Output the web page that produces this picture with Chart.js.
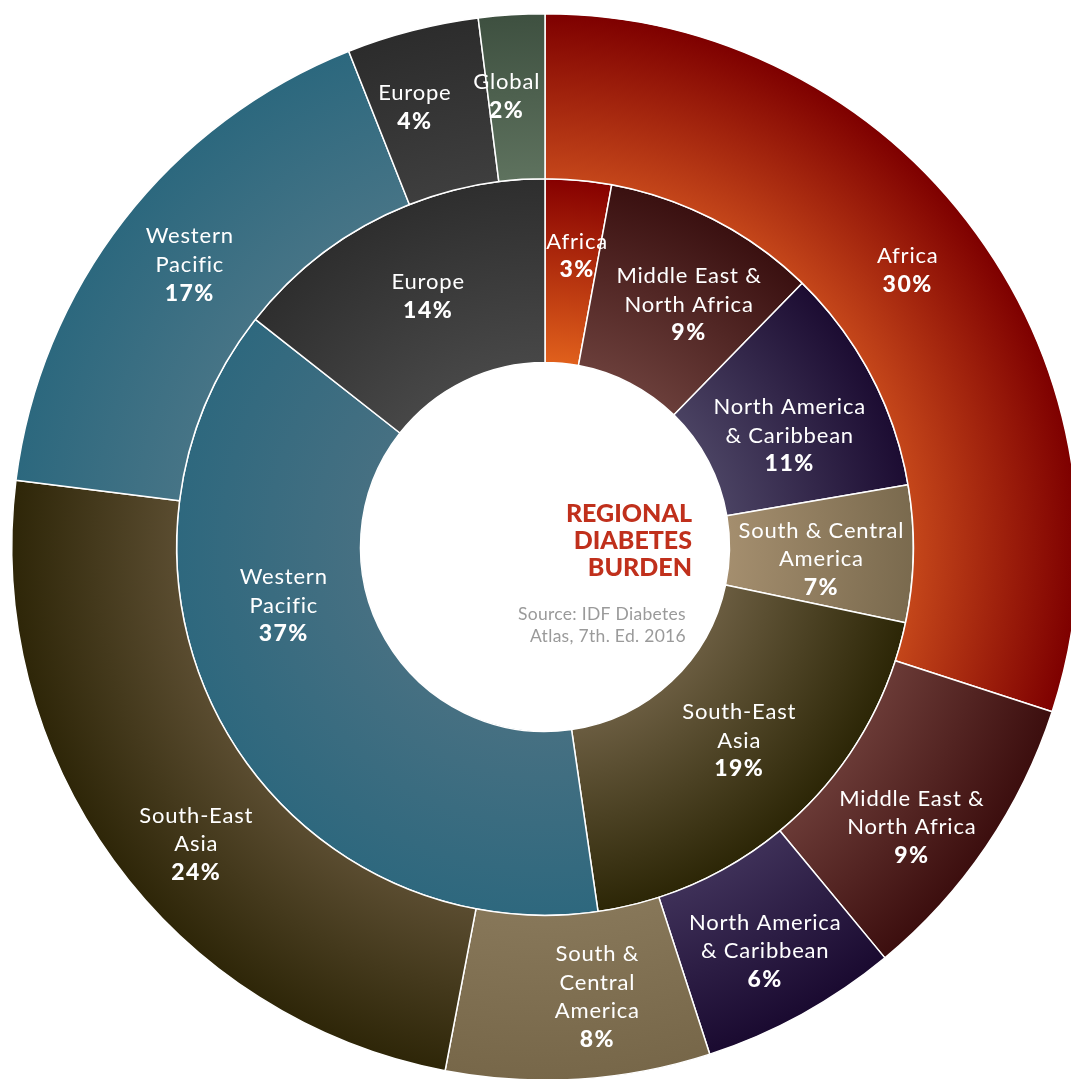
<!DOCTYPE html>
<html>
<head>
<meta charset="utf-8">
<script src="https://cdn.jsdelivr.net/npm/chart.js@4.4.1/dist/chart.umd.min.js"></script>
<style>
html,body{margin:0;padding:0;background:#fff;overflow:hidden;}
#wrap{position:absolute;left:0;top:0;width:1092px;height:1092px;}
</style>
</head>
<body>
<div id="wrap"><canvas id="canvas" width="1092" height="1092"></canvas></div>
<script>
// outer ring
const outerRegions = ['Africa', 'Middle East &\nNorth Africa', 'North America\n& Caribbean', 'South &\nCentral\nAmerica', 'South-East\nAsia', 'Western\nPacific', 'Europe', 'Global'];
const outerValues = [30, 9, 6, 8, 24, 17, 4, 2];
const outerPercents = ['30%', '9%', '6%', '8%', '24%', '17%', '4%', '2%'];

// inner ring (slice sizes as drawn in the original, labels as printed)
const innerRegions = ['Africa', 'Middle East &\nNorth Africa', 'North America\n& Caribbean', 'South & Central\nAmerica', 'South-East\nAsia', 'Western\nPacific', 'Europe'];
const innerValues = [2.9, 9.4, 10.0, 6.0, 19.4, 37.9, 14.4];
const innerPercents = ['3%', '9%', '11%', '7%', '19%', '37%', '14%'];

// [colour at inner edge, colour at outer edge]
const outerColors = [
  ['#c4461a', '#7e0000'],
  ['#6a3a36', '#3c0e0e'],
  ['#3e3058', '#1a0a30'],
  ['#877759', '#776749'],
  ['#5a4c30', '#2e2608'],
  ['#467486', '#2c687e'],
  ['#3e3e3e', '#2c2c2c'],
  ['#5e725e', '#3e5040']
];
const innerColors = [
  ['#e0601c', '#860000'],
  ['#6a3e3a', '#3a1010'],
  ['#4a4262', '#1c0c32'],
  ['#a48e6e', '#7a6a4e'],
  ['#6a5c40', '#2c2606'],
  ['#467082', '#2e687e'],
  ['#474747', '#2e2e2e']
];

// small hand nudges so labels sit where the original put them
const labelNudge = {
  '0-0': [-2, -12], '0-1': [-6, 27], '0-2': [3, 9], '0-3': [24, 0], '0-4': [16, 32], '0-5': [1, -6], '0-6': [-18, -3], '0-7': [-10, -1],
  '1-0': [7, -16], '1-1': [17, 3], '1-2': [0, 17], '1-3': [0, 7], '1-4': [5, -8], '1-5': [-22, -80], '1-6': [4, -2]
};

const FONT = 'Lato, "Open Sans", sans-serif';

function ringFill(colors){
  return function(context){
    const chart = context.chart;
    const area = chart.chartArea;
    const c = colors[context.dataIndex];
    if(!area) return c[1];
    const ctrl = chart.getDatasetMeta(context.datasetIndex).controller;
    const cx = (area.left + area.right) / 2;
    const cy = (area.top + area.bottom) / 2;
    const g = chart.ctx.createRadialGradient(cx, cy, ctrl.innerRadius || 0, cx, cy, ctrl.outerRadius || 1);
    g.addColorStop(0, c[0]);
    g.addColorStop(1, c[1]);
    return g;
  }
}

const ringLabels = {
  id: 'ringLabels',
  afterDatasetsDraw(chart){
    const ctx = chart.ctx;
    ctx.save();
    ctx.fillStyle = '#fff';
    ctx.textAlign = 'center';
    ctx.textBaseline = 'middle';
    chart.data.datasets.forEach(function(ds, di){
      const meta = chart.getDatasetMeta(di);
      meta.data.forEach(function(arc, i){
        const p = arc.getProps(['x', 'y', 'startAngle', 'endAngle', 'innerRadius', 'outerRadius'], true);
        const a = (p.startAngle + p.endAngle) / 2;
        const r = (p.innerRadius + p.outerRadius) / 2;
        const n = labelNudge[di + '-' + i] || [0, 0];
        const x = p.x + Math.cos(a) * r + n[0];
        const y = p.y + Math.sin(a) * r + n[1];
        const lines = ds.names[i].split('\n');
        const all = lines.length + 1;
        const lh = 28.5;
        ctx.font = '400 22px ' + FONT;
        ctx.letterSpacing = '0.8px';
        lines.forEach(function(t, k){
          ctx.fillText(t, x, y + (k - (all - 1) / 2) * lh);
        });
        ctx.font = '900 23px ' + FONT;
        ctx.letterSpacing = '1.5px';
        ctx.fillText(ds.percents[i], x, y + (lines.length - (all - 1) / 2) * lh);
      });
    });
    ctx.restore();
  }
};

const centerTitle = {
  id: 'centerTitle',
  afterDraw(chart){
    const area = chart.chartArea;
    const cx = (area.left + area.right) / 2;
    const cy = (area.top + area.bottom) / 2;
    const ctx = chart.ctx;
    ctx.save();
    ctx.textAlign = 'right';
    ctx.textBaseline = 'middle';
    ctx.fillStyle = '#c0301c';
    ctx.font = '900 25px ' + FONT;
    ['REGIONAL', 'DIABETES', 'BURDEN'].forEach(function(t, k){
      ctx.fillText(t, cx + 147, cy - 33 + k * 27);
    });
    ctx.fillStyle = '#9a9a9a';
    ctx.font = '400 17.5px ' + FONT;
    ctx.letterSpacing = '0.3px';
    ['Source: IDF Diabetes', 'Atlas, 7th. Ed. 2016'].forEach(function(t, k){
      ctx.fillText(t, cx + 141, cy + 67 + k * 22);
    });
    ctx.restore();
  }
};

new Chart(document.getElementById('canvas'), {
  type: 'doughnut',
  plugins: [ringLabels, centerTitle],
  data: {
    labels: outerRegions,
    datasets: [
      {
        data: outerValues,
        names: outerRegions,
        percents: outerPercents,
        weight: 165,
        backgroundColor: ringFill(outerColors),
        borderColor: '#ffffff',
        borderWidth: 1.5
      },
      {
        data: innerValues,
        names: innerRegions,
        percents: innerPercents,
        weight: 184,
        backgroundColor: ringFill(innerColors),
        borderColor: '#ffffff',
        borderWidth: 1.5
      }
    ]
  },
  options: {
    responsive: false,
    animation: false,
    cutout: '34.6%',
    layout: { padding: { left: 11, top: 13, right: 13, bottom: 11 } },
    plugins: {
      legend: { display: false },
      tooltip: { enabled: false }
    }
  }
});
</script>
</body>
</html>
